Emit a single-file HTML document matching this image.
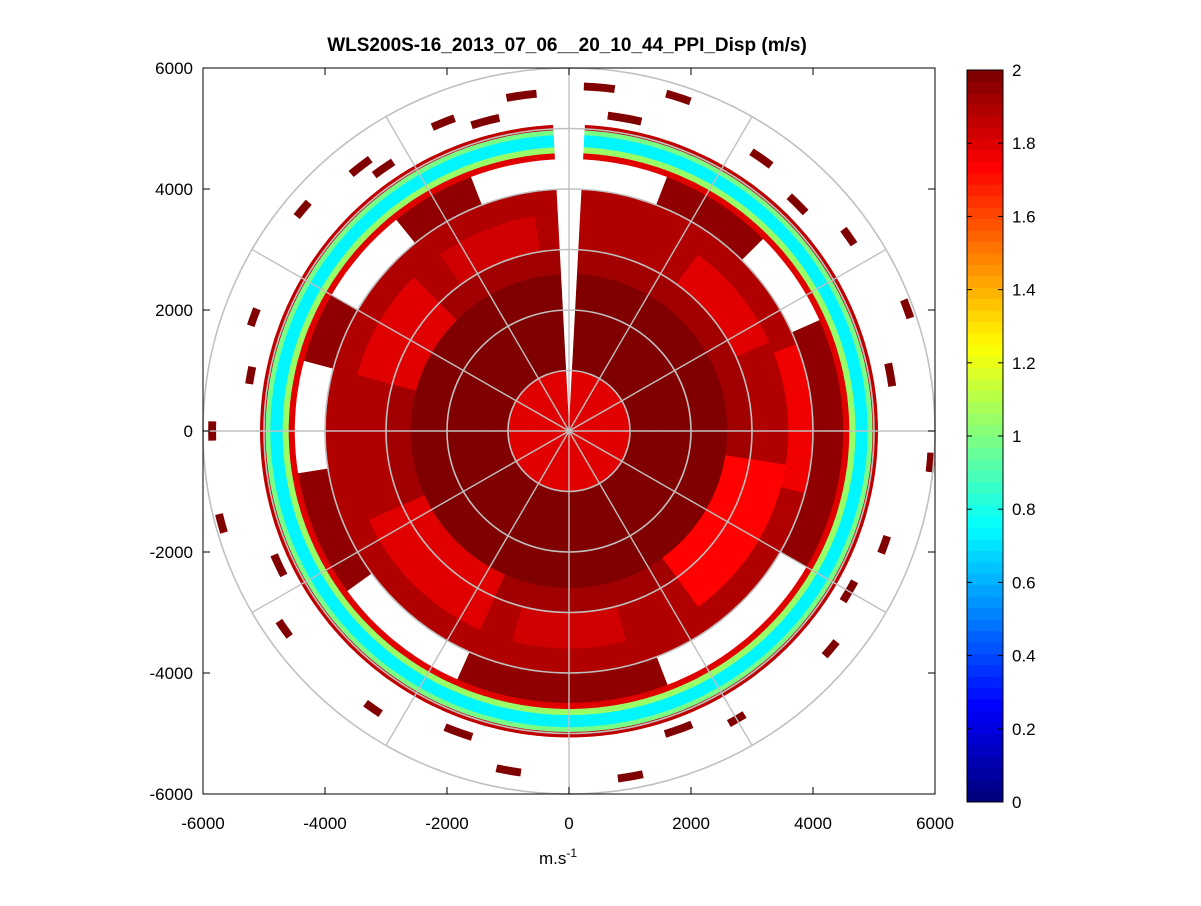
<!DOCTYPE html>
<html><head><meta charset="utf-8">
<style>
body{margin:0;background:#fff;}
svg text{font-family:"Liberation Sans",sans-serif;fill:#000;}
</style></head>
<body>
<svg id="chart" width="1201" height="901" viewBox="0 0 1201 901" xmlns="http://www.w3.org/2000/svg">
<rect width="1201" height="901" fill="#fff"/>
<text x="567" y="51" font-size="19" font-weight="bold" text-anchor="middle">WLS200S-16_2013_07_06__20_10_44_PPI_Disp (m/s)</text>
<g id="data"></g>
<g id="grid"></g>
<g id="axes"></g>
<g id="cbar"></g>
<text x="558" y="864" font-size="17" text-anchor="middle">m.s<tspan font-size="12" dy="-7">-1</tspan></text>
</svg>
<script>
// ring gate edges (m) and typical value per ring
const ringEdges = [0, 1000, 2600, 3000, 3600, 4000, 4500, 4600, 4700, 4900, 4980, 5060];
const ringValues = [1.8, 1.98, 1.92, 1.88, 1.9, 1.95, 1.8, 1.05, 0.72, 1.0, 1.85];
// empty sectors: [az0, az1, r0, r1] (compass degrees)
const emptySectors = [
  [-2, 2, 0, 6000],
  [340, 380, 4150, 4400],
  [45, 65, 4150, 4450],
  [120, 160, 4150, 4450],
  [205, 235, 4150, 4400],
  [262, 284, 4200, 4450],
  [300, 320, 4150, 4400]
];
// hot regions: [az0, az1, r0, r1, value]
const hotRegions = [
  [100, 145, 2800, 3600, 1.72],
  [205, 245, 2600, 3400, 1.8],
  [285, 315, 2600, 3400, 1.8],
  [35, 65, 3000, 3600, 1.8],
  [70, 105, 3600, 4000, 1.78],
  [165, 195, 3000, 3600, 1.82],
  [325, 350, 3000, 3600, 1.82]
];
// sparse outer returns: [azCenter, range, widthDeg]
const outerBlocks = [
  [5,5700,5],[-8,5600,5],[18,5800,4],[-22,5500,4],[35,5500,4],[-38,5550,4],
  [55,5600,3],[70,5900,3],[95,5950,3],[110,5500,3],[130,5600,3],[150,5500,3],
  [170,5800,4],[190,5700,4],[215,5600,3],[235,5700,3],[255,5900,3],[270,5850,3],[290,5500,3],[310,5700,3],
  [10,5250,6],[-15,5300,5],[45,5300,4],[80,5350,4],[120,5300,4],[160,5250,5],[200,5300,5],[245,5250,4],[280,5300,3],[325,5300,4]
];
const cbTicks = [0,0.2,0.4,0.6,0.8,1,1.2,1.4,1.6,1.8,2];
const axisTicks = [-6000,-4000,-2000,0,2000,4000,6000];

const NS='http://www.w3.org/2000/svg';
const cx=569, cy=431, sx=0.061, sy=0.0605;
function X(v){return cx+v*sx;}
function Y(v){return cy-v*sy;}
function P(r,az){const a=az*Math.PI/180;return [X(r*Math.sin(a)),Y(r*Math.cos(a))];}
function jet(v){v=Math.max(0,Math.min(1,v/2));v=Math.floor(v*63.999)/63;
  const c=t=>Math.round(255*Math.max(0,Math.min(1,1.5-Math.abs(t))));
  return `rgb(${c(4*v-3)},${c(4*v-2)},${c(4*v-1)})`;}
function inSec(az,s){let a=az;if(a<s[0])a+=360;if(a>s[1]&&a-360>=s[0])a-=360;return a>=s[0]&&a<s[1];}
function cell(g,az0,az1,r0,r1,val){
  const pts=[];const n=3;
  for(let i=0;i<=n;i++)pts.push(P(r1,az0+(az1-az0)*i/n));
  for(let i=n;i>=0;i--)pts.push(P(r0,az0+(az1-az0)*i/n));
  const p=document.createElementNS(NS,'polygon');
  p.setAttribute('points',pts.map(q=>q[0].toFixed(1)+','+q[1].toFixed(1)).join(' '));
  p.setAttribute('fill',jet(val));p.setAttribute('stroke',jet(val));p.setAttribute('stroke-width','0.6');
  
  
  g.appendChild(p);}
const dg=document.getElementById('data');
const step=3;
for(let az=0;az<360;az+=step){
  const mid=az+step/2;
  for(let k=0;k<ringValues.length;k++){
    const r0=ringEdges[k],r1=ringEdges[k+1];
    const rm=(r0+r1)/2;
    if(emptySectors.some(s=>inSec(mid,s)&&rm>=s[2]&&rm<s[3]))continue;
    let v=ringValues[k];
    const h=hotRegions.find(s=>inSec(mid,s)&&rm>=s[2]&&rm<s[3]);
    if(h)v=h[4];
    let a0=az,a1=az+step;
    if(az===0)a0=2; if(az+step>=360)a1=358;
    cell(dg,a0,a1,r0,r1,v);
  }
}
outerBlocks.forEach(b=>cell(dg,b[0]-b[2]/2,b[0]+b[2]/2,b[1]-60,b[1]+60,2));

// grid
const gg=document.getElementById('grid');
for(let r=1000;r<=6000;r+=1000){
  const e=document.createElementNS(NS,'ellipse');
  e.setAttribute('cx',cx);e.setAttribute('cy',cy);e.setAttribute('rx',r*sx);e.setAttribute('ry',r*sy);
  e.setAttribute('fill','none');e.setAttribute('stroke','#c0c0c0');e.setAttribute('stroke-width','1.6');
  
  
  gg.appendChild(e);}
for(let a=0;a<360;a+=30){
  const p=P(6000,a);const l=document.createElementNS(NS,'line');
  l.setAttribute('x1',cx);l.setAttribute('y1',cy);l.setAttribute('x2',p[0]);l.setAttribute('y2',p[1]);
  l.setAttribute('stroke','#c0c0c0');l.setAttribute('stroke-width','1.4');
  
  
  gg.appendChild(l);}

// axes
const ag=document.getElementById('axes');
const fr=document.createElementNS(NS,'rect');
fr.setAttribute('x',X(-6000));fr.setAttribute('y',Y(6000));fr.setAttribute('width',X(6000)-X(-6000));fr.setAttribute('height',Y(-6000)-Y(6000));
fr.setAttribute('fill','none');fr.setAttribute('stroke','#000');fr.setAttribute('stroke-width','1');


ag.appendChild(fr);
axisTicks.forEach(t=>{
  const tx=document.createElementNS(NS,'text');
  tx.setAttribute('x',X(t));tx.setAttribute('y',829);tx.setAttribute('font-size','17');tx.setAttribute('text-anchor','middle');
  tx.textContent=t;
  
  
  ag.appendChild(tx);
  const ty=document.createElementNS(NS,'text');
  ty.setAttribute('x',193);ty.setAttribute('y',Y(t)+6);ty.setAttribute('font-size','17');ty.setAttribute('text-anchor','end');
  ty.textContent=t;
  
  
  ag.appendChild(ty);
  [[X(t),Y(-6000),X(t),Y(-6000)-7],[X(t),Y(6000),X(t),Y(6000)+7],[X(-6000),Y(t),X(-6000)+7,Y(t)],[X(6000),Y(t),X(6000)-7,Y(t)]].forEach(c=>{
    const l=document.createElementNS(NS,'line');
    l.setAttribute('x1',c[0]);l.setAttribute('y1',c[1]);l.setAttribute('x2',c[2]);l.setAttribute('y2',c[3]);
    l.setAttribute('stroke','#000');
    
    
    ag.appendChild(l);});
});

// colorbar
const cg=document.getElementById('cbar');
const cbX=967,cbW=36,cbTop=70,cbBot=802;
function CY(v){return cbBot-(v/2)*(cbBot-cbTop);}
for(let i=0;i<64;i++){
  const r=document.createElementNS(NS,'rect');
  const v0=i*2/64,v1=(i+1)*2/64;
  r.setAttribute('x',cbX);r.setAttribute('y',CY(v1));r.setAttribute('width',cbW);r.setAttribute('height',CY(v0)-CY(v1)+0.5);
  r.setAttribute('fill',jet((v0+v1)/2));
  
  
  cg.appendChild(r);}
const cf=document.createElementNS(NS,'rect');
cf.setAttribute('x',cbX);cf.setAttribute('y',cbTop);cf.setAttribute('width',cbW);cf.setAttribute('height',cbBot-cbTop);
cf.setAttribute('fill','none');cf.setAttribute('stroke','#000');


cg.appendChild(cf);
cbTicks.forEach(t=>{
  const tx=document.createElementNS(NS,'text');
  tx.setAttribute('x',1012);tx.setAttribute('y',CY(t)+6);tx.setAttribute('font-size','17');
  tx.textContent=t;
  
  
  cg.appendChild(tx);
  [[cbX,cbX+5],[cbX+cbW,cbX+cbW-5]].forEach(c=>{
    const l=document.createElementNS(NS,'line');
    l.setAttribute('x1',c[0]);l.setAttribute('x2',c[1]);l.setAttribute('y1',CY(t));l.setAttribute('y2',CY(t));
    l.setAttribute('stroke','#000');
    
    
    cg.appendChild(l);});
});
</script>
</body></html>
